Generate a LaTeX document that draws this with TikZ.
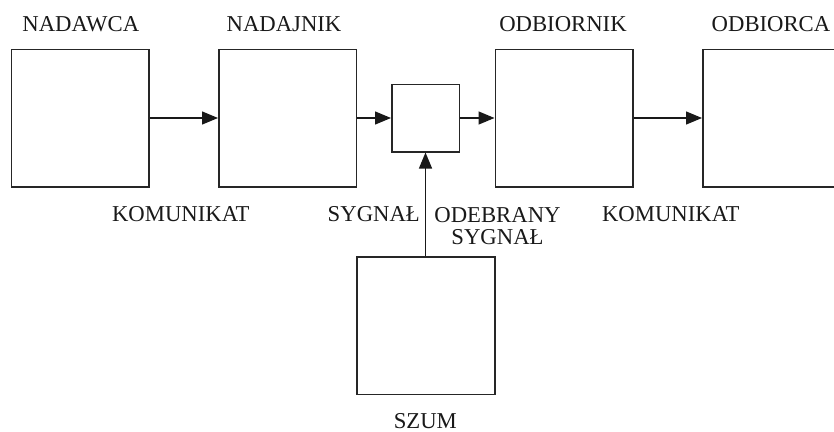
\documentclass[tikz,border=0pt]{standalone}
\usepackage{fontspec}
\setmainfont{Liberation Serif}
\usetikzlibrary{arrows.meta}
\begin{document}
\begin{tikzpicture}[x=1pt,y=-1pt,
  font=\fontsize{22.7}{22}\selectfont,
  bigbox/.style={draw=black!85,line width=1.5pt,inner sep=0pt,minimum width=137.5pt,minimum height=137.5pt},
  smallbox/.style={draw=black!85,line width=1.5pt,inner sep=0pt,minimum width=67.5pt,minimum height=67.5pt},
  lbl/.style={inner sep=0pt,anchor=base,text=black!90},
  conn/.style={line width=1.3pt,draw=black!90,-{Triangle[length=16pt,width=13pt]}}]
\useasboundingbox (0,0) rectangle (834,431);
\fill[white] (0,0) rectangle (834,431);
% boxes
\node[bigbox] (nadawca) at (80,118) {};
\node[bigbox] (nadajnik) at (287.5,118) {};
\node[smallbox] (kanal) at (425.5,118) {};
\node[bigbox] (odbiornik) at (564,118) {};
\node[bigbox] (odbiorca) at (771.5,118) {};
\node[bigbox,minimum width=138pt] (szum) at (426.2,325.5) {};
% titles
\node[lbl] (t1) at (80.8,31.7) {NADAWCA};
\node[lbl] (t2) at (284,31.7) {NADAJNIK};
\node[lbl] (t3) at (563,31.7) {ODBIORNIK};
\node[lbl] (t4) at (771,31.7) {ODBIORCA};
\node[lbl] (k1) at (180.8,221.7) {KOMUNIKAT};
\node[lbl,anchor=base east] (s1) at (420,221.7) {SYGNAŁ};
\node[inner sep=0pt,anchor=north,align=center,text=black!90] (s2) at (497.5,207) {ODEBRANY\\SYGNAŁ};
\node[lbl] (k2) at (670.8,221.7) {KOMUNIKAT};
\node[lbl] (sz) at (425.3,428.3) {SZUM};
% connectors
\draw[conn] (nadawca) -- (nadajnik);
\draw[conn] (nadajnik) -- (kanal);
\draw[conn] (kanal) -- (odbiornik);
\draw[conn] (odbiornik) -- (odbiorca);
\draw[conn] (szum.north -| kanal.south) -- (kanal.south);
\end{tikzpicture}
\end{document}
